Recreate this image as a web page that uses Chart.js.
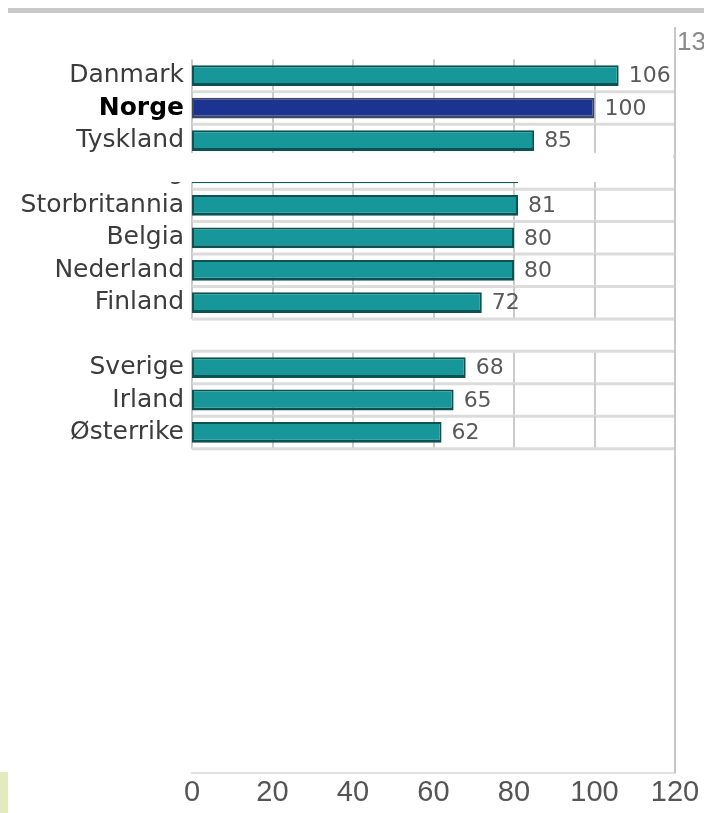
<!DOCTYPE html>
<html><head><meta charset="utf-8">
<script src="https://cdn.jsdelivr.net/npm/chart.js@4.4.1/dist/chart.umd.min.js"></script>
<style>
html,body{margin:0;padding:0;background:#fff;}
#wrap{position:relative;width:704px;height:813px;overflow:hidden;background:#fff;}
#topRule{position:absolute;left:8px;top:8px;width:696px;height:5px;background:#c9c9c9;}
#swatch{position:absolute;left:0;top:772px;width:8px;height:41px;background:#e3eabd;}
canvas{position:absolute;left:0;top:0;}
</style></head><body>
<div id="wrap"><canvas id="c"></canvas><div id="topRule"></div><div id="swatch"></div></div>
<script>
// ---- data ----
const countries = ['Danmark','Norge','Tyskland','Luxembourg','Storbritannia','Belgia','Nederland','Finland','','Sverige','Irland','Østerrike'];
const values    = [106, 100, 85, 81, 81, 80, 80, 72, null, 68, 65, 62];
const xTicks    = [0, 20, 40, 60, 80, 100, 120];
const highlighted = 'Norge';
const hiddenRow   = 'Luxembourg';
const cornerText  = '13';
const leadingBlankRows = 1;
const trailingBlankRows = 10;

// ---- build ----
const labels = [...Array(leadingBlankRows).fill(''), ...countries, ...Array(trailingBlankRows).fill('')];
const data   = [...Array(leadingBlankRows).fill(null), ...values, ...Array(trailingBlankRows).fill(null)];

const teal = '#17979a', tealEdge = '#0d5253', blue = '#1b3391', blueEdge = '#3d4766';
const narrow = '"Liberation Sans", Arial, sans-serif';

const rowGrid = {
  id: 'rowGrid',
  beforeDatasetsDraw(chart) {
    const {ctx, scales: {x, y}} = chart;
    const p = Math.abs(y.getPixelForValue(1) - y.getPixelForValue(0));
    const x0 = x.getPixelForValue(xTicks[0]), x1 = x.getPixelForValue(xTicks[xTicks.length - 1]);
    ctx.save();
    data.forEach((v, i) => {
      if (v === null) return;
      const c = y.getPixelForValue(i), t = c - p / 2, b = c + p / 2;
      ctx.strokeStyle = '#cbcbcb'; ctx.lineWidth = 2;
      xTicks.forEach(tv => {
        const px = Math.round(x.getPixelForValue(tv));
        ctx.beginPath(); ctx.moveTo(px, t); ctx.lineTo(px, b); ctx.stroke();
      });
      ctx.strokeStyle = '#dcdcdc'; ctx.lineWidth = 3;
      ctx.beginPath(); ctx.moveTo(x0, b); ctx.lineTo(x1, b); ctx.stroke();
      if (i > leadingBlankRows && data[i - 1] === null) {
        ctx.beginPath(); ctx.moveTo(x0, t); ctx.lineTo(x1, t); ctx.stroke();
      }
    });
    ctx.restore();
  },
  afterDatasetsDraw(chart) {
    const {ctx} = chart;
    ctx.save();
    ctx.font = '22px "DejaVu Sans", sans-serif';
    ctx.fillStyle = '#5a5a5a';
    ctx.textAlign = 'left'; ctx.textBaseline = 'middle';
    chart.getDatasetMeta(0).data.forEach((bar, i) => {
      if (data[i] === null) return;
      ctx.fillText(String(data[i]), bar.x + 10, bar.y + 1);
    });
    ctx.restore();
  },
  afterDraw(chart) {
    const {ctx, chartArea: a, scales: {y}} = chart;
    const p = Math.abs(y.getPixelForValue(1) - y.getPixelForValue(0));
    ctx.save();
    const idx = labels.indexOf(hiddenRow);
    if (idx >= 0) {
      const c = y.getPixelForValue(idx);
      ctx.fillStyle = '#ffffff';
      ctx.fillRect(0, c - 0.62 * p, a.right - 2, 0.9 * p);
    }
    ctx.strokeStyle = '#c8c8c8'; ctx.lineWidth = 2;
    ctx.beginPath(); ctx.moveTo(a.right, a.top); ctx.lineTo(a.right, a.bottom); ctx.stroke();
    ctx.font = '26px ' + narrow;
    ctx.fillStyle = '#8a8a8a';
    ctx.textAlign = 'left'; ctx.textBaseline = 'middle';
    ctx.fillText(cornerText, a.right + 2, y.getPixelForValue(0));
    ctx.restore();
  }
};

new Chart(document.getElementById('c'), {
  type: 'bar',
  data: {
    labels,
    datasets: [{
      data,
      backgroundColor: labels.map(l => l === highlighted ? blue : teal),
      borderColor: labels.map(l => l === highlighted ? blueEdge : tealEdge),
      borderWidth: {top: 2, right: 2, bottom: 3, left: 2},
      borderSkipped: false,
      barPercentage: 0.64,
      categoryPercentage: 1
    }]
  },
  options: {
    indexAxis: 'y',
    responsive: true,
    maintainAspectRatio: false,
    animation: false,
    layout: {padding: {top: 27, right: 29, bottom: 0, left: 0}},
    plugins: {legend: {display: false}, tooltip: {enabled: false}},
    scales: {
      x: {
        min: 0, max: 120,
        afterFit: s => { s.height = 40; },
        grid: {display: false, drawTicks: false},
        border: {display: true, color: '#e2e2e2', width: 2},
        ticks: {stepSize: 20, padding: 3, color: '#555555', font: {family: narrow, size: 29}}
      },
      y: {
        afterFit: s => { s.width = 192; },
        grid: {display: false, drawTicks: false},
        border: {display: false},
        ticks: {
          autoSkip: false, padding: 8,
          color: ctx => labels[ctx.index] === highlighted ? '#000000' : '#3c3c3c',
          font: ctx => ({family: '"DejaVu Sans", sans-serif', size: 25, weight: labels[ctx.index] === highlighted ? 'bold' : 'normal'})
        }
      }
    }
  },
  plugins: [rowGrid]
});
</script>
</body></html>
